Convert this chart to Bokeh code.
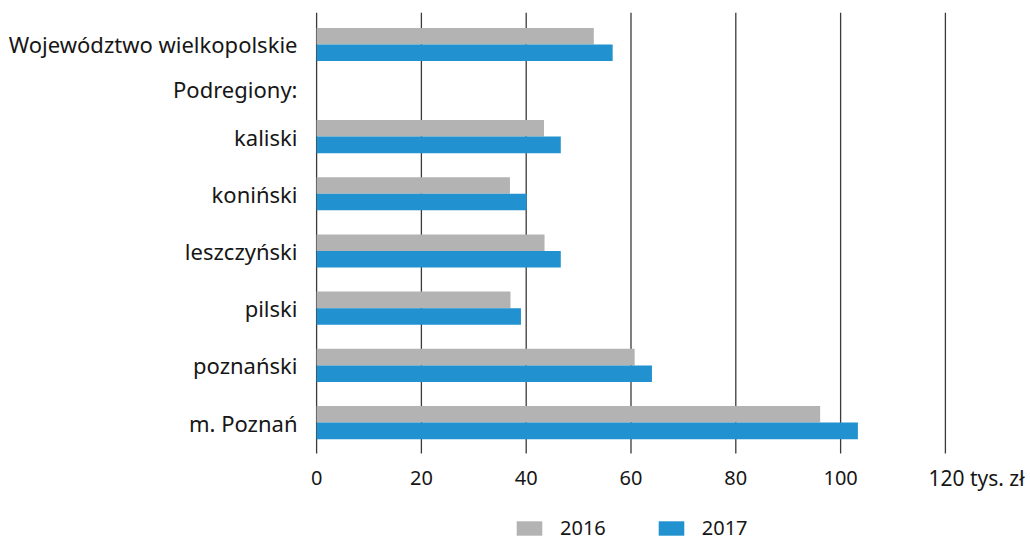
from bokeh.plotting import figure
from bokeh.models import Range1d, FixedTicker, Legend, LegendItem, ColumnDataSource
from bokeh.core.properties import value
from bokeh.transform import dodge
from bokeh.embed import file_html
from bokeh.resources import INLINE

labels = ["Województwo wielkopolskie", "Podregiony:", "kaliski", "koniński",
          "leszczyński", "pilski", "poznański", "m. Poznań"]
v2016 = [52.9, float("nan"), 43.4, 36.9, 43.5, 37.0, 60.7, 96.1]
v2017 = [56.5, float("nan"), 46.6, 40.1, 46.6, 39.0, 64.0, 103.3]
x_ticks = [0, 20, 40, 60, 80, 100, 120]
x_tick_labels = ["0", "20", "40", "60", "80", "100", "120"]
unit_label = "tys. zł"

# row layout (header rows are closer together than the sub-region rows)
row_y = [0.0, 0.77] + [1.61 + i for i in range(6)]

FONT = "Noto Sans"
GRID = "#3a3a3a"
TXT = "#161616"

Y_TOP, Y_GRID_END, Y_LABEL, Y_BOTTOM = -0.559, 7.15, 7.57, 8.671

src = ColumnDataSource(dict(y=row_y, a=v2016, b=v2017, lab=labels))
grid_src = ColumnDataSource(dict(x=x_ticks, lab=x_tick_labels))
tick_src = ColumnDataSource(dict(x=x_ticks[:-1], lab=x_tick_labels[:-1]))

p = figure(width=1030, height=540, output_backend="svg", toolbar_location=None,
           x_range=Range1d(-2.5, 136.24), y_range=Range1d(Y_BOTTOM, Y_TOP),
           min_border_left=303, min_border_right=0, min_border_top=12,
           min_border_bottom=0, outline_line_color=None)

# vertical grid lines (including the zero line)
p.segment(x0="x", x1="x", y0=Y_TOP, y1=Y_GRID_END, source=grid_src,
          line_color=GRID, line_width=1.3)

bh = 0.29
r16 = p.hbar(y=dodge("y", -bh / 2), right="a", left=0, height=bh, source=src,
             fill_color="#b3b3b3", line_color=None)
r17 = p.hbar(y=dodge("y", bh / 2), right="b", left=0, height=bh, source=src,
             fill_color="#2191d0", line_color=None)

# x tick labels
p.text(x="x", y=Y_LABEL, text="lab", source=tick_src, text_align="center",
       text_baseline="middle", text_font=value(FONT), text_font_size="20px",
       text_color=TXT)
# last tick label carries the unit
p.text(x=[x_ticks[-1]], y=[Y_LABEL], text=[x_tick_labels[-1] + " " + unit_label],
       x_offset=-17, text_align="left", text_baseline="middle",
       text_font=value(FONT), text_font_size="21px", text_color=TXT)

p.xgrid.grid_line_color = None
p.ygrid.grid_line_color = None
p.xaxis.visible = False

ya = p.yaxis[0]
ya.ticker = FixedTicker(ticks=row_y)
ya.major_label_overrides = {yv: lab for yv, lab in zip(row_y, labels)}
ya.axis_line_color = None
ya.major_tick_line_color = None
ya.minor_tick_line_color = None
ya.major_label_standoff = 0
ya.major_label_text_font = FONT
ya.major_label_text_font_size = "22px"
ya.major_label_text_color = TXT

legend = Legend(items=[LegendItem(label="2016", renderers=[r16]),
                       LegendItem(label="2017", renderers=[r17])],
                orientation="horizontal", location=(210, -1),
                glyph_width=32, glyph_height=18, label_standoff=15, spacing=49,
                label_text_font=FONT, label_text_font_size="20px",
                label_text_color=TXT, border_line_color=None,
                background_fill_alpha=0, padding=0, margin=0)
p.add_layout(legend)

open("out.html", "w").write(file_html(p, INLINE))
